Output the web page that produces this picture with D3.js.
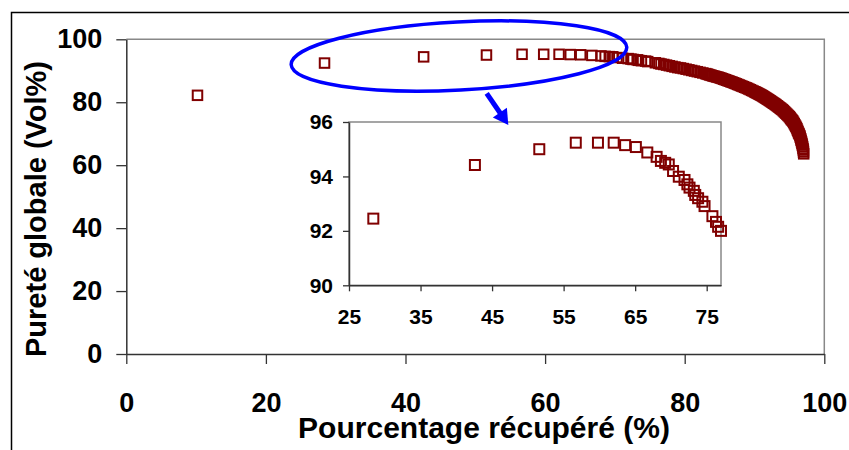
<!DOCTYPE html>
<html lang="fr">
<head>
<meta charset="UTF-8">
<title>Pureté globale vs pourcentage récupéré</title>
<style>
    body { margin: 0; background: #fff; }
    svg { display: block; font-family: Arial, "Liberation Sans", sans-serif; font-weight: bold; }
    .pt { fill: none; stroke: #800000; stroke-width: 2px; }
</style>
</head>
<body>
<svg id="chart" width="849" height="450"></svg>
<script src="https://d3js.org/d3.v7.min.js"></script>
<script>
// pourcentage récupéré (%) and pureté globale (Vol%)
const recovery = [10.2, 28.4, 42.6, 51.6, 56.7, 59.8, 62.0, 63.6, 65.1, 66.7, 68.0, 68.6, 69.2, 69.7,
    70.3, 71.1, 71.9, 72.3, 72.6, 73.2, 73.4, 73.8, 74.4, 74.7, 75.8, 76.3, 76.6,
    77.0, 77.4, 77.8, 78.2, 78.6, 79.0, 79.4, 79.8, 80.2, 80.6, 81.0, 81.4, 81.8, 82.2, 82.6,
    83.0, 83.2, 83.4, 83.6, 83.8, 84.0, 84.2, 84.4, 84.6, 84.8, 85.0, 85.2, 85.4, 85.6, 85.8,
    86.0, 86.2, 86.4, 86.6, 86.8, 87.0, 87.2, 87.4, 87.6, 87.8, 88.0, 88.2, 88.4, 88.6, 88.8,
    89.0, 89.2, 89.4, 89.6, 89.8,
    90.0, 90.125, 90.25, 90.375, 90.5, 90.625, 90.75, 90.875, 91.0, 91.125, 91.25, 91.375, 91.5,
    91.625, 91.75, 91.875, 92.0, 92.125, 92.25, 92.375, 92.5, 92.625, 92.75, 92.875, 93.0,
    93.125, 93.25, 93.375, 93.5, 93.625, 93.75, 93.875, 94.0, 94.125, 94.25, 94.375, 94.5,
    94.625, 94.75, 94.875, 95.0,
    95.1, 95.2, 95.3, 95.4, 95.5, 95.6, 95.7, 95.8, 95.9, 96.0, 96.08, 96.16, 96.24, 96.32, 96.4,
    96.5, 96.56, 96.62, 96.68, 96.74, 96.8, 96.85, 96.9, 96.95, 97.0, 97.02, 97.05];
const purity = [82.2, 92.45, 94.42, 95.0, 95.24, 95.24, 95.24, 95.15, 95.08, 94.88, 94.72, 94.57, 94.5, 94.44,
    94.2, 93.99, 93.87, 93.71, 93.59, 93.47, 93.32, 93.2, 93.07, 92.91, 92.54, 92.33, 92.15,
    92.0, 91.8, 91.6, 91.4, 91.2, 91.0, 90.9, 90.7, 90.5, 90.3, 90.1, 89.9, 89.7, 89.5, 89.3,
    89.1, 88.96, 88.82, 88.68, 88.54, 88.4, 88.28, 88.16, 88.04, 87.92, 87.8, 87.64, 87.48, 87.32, 87.16,
    87.0, 86.84, 86.68, 86.52, 86.36, 86.2, 86.02, 85.84, 85.66, 85.48, 85.3, 85.12, 84.94, 84.76, 84.58,
    84.4, 84.19, 83.98, 83.77, 83.56,
    83.35, 83.2, 83.06, 82.92, 82.78, 82.63, 82.49, 82.34, 82.2, 82.03, 81.85, 81.68, 81.5,
    81.33, 81.15, 80.98, 80.8, 80.61, 80.43, 80.24, 80.05, 79.86, 79.68, 79.49, 79.3,
    79.09, 78.88, 78.66, 78.45, 78.24, 78.03, 77.81, 77.6, 77.33, 77.05, 76.78, 76.5,
    76.23, 75.95, 75.68, 75.4,
    75.1, 74.8, 74.5, 74.25, 74.0, 73.6, 73.2, 72.8, 72.4, 72.0, 71.6, 71.1, 70.7, 70.2, 69.9,
    69.4, 68.9, 68.4, 67.9, 67.4, 66.9, 66.4, 65.9, 65.3, 64.8, 64.2, 63.6];

const xTicks = [0, 20, 40, 60, 80, 100];
const yTicks = [0, 20, 40, 60, 80, 100];
const insetXTicks = [25, 35, 45, 55, 65, 75];
const insetYTicks = [90, 92, 94, 96];

const points = recovery.map((r, i) => ({ x: r, y: purity[i] }));

const svg = d3.select("#chart");

// outer chart frame (only left and top edges visible)
svg.append("path")
    .attr("d", "M11.5,450V12.5H849")
    .attr("fill", "none")
    .attr("stroke", "#000")
    .attr("stroke-width", 1.5);

// main chart scales
const x = d3.scaleLinear().domain([0, 100]).range([126.3, 824.3]);
const y = d3.scaleLinear().domain([0, 100]).range([354, 39.3]);

// grey plot border on top and right
svg.append("path")
    .attr("d", `M${x(0)},${y(100)}H${x(100)}V${y(0)}`)
    .attr("fill", "none")
    .attr("stroke", "#888")
    .attr("stroke-width", 1.5);

const xAxis = svg.append("g")
    .attr("transform", `translate(0,${y(0)})`)
    .call(d3.axisBottom(x).tickValues(xTicks).tickSize(10).tickSizeOuter(0).tickPadding(29));
const yAxis = svg.append("g")
    .attr("transform", `translate(${x(0)},0)`)
    .call(d3.axisLeft(y).tickValues(yTicks).tickSize(10).tickSizeOuter(0).tickPadding(14));

[xAxis, yAxis].forEach(g => {
    g.attr("font-family", null).attr("font-size", 27).attr("font-weight", "bold");
    g.select(".domain").attr("stroke", "#333").attr("stroke-width", 1.5);
    g.selectAll(".tick line").attr("stroke", "#333").attr("stroke-width", 1.3);
    g.selectAll(".tick text").attr("fill", "#000");
});

// main markers
const sq = 9.5;
svg.append("g").selectAll("rect")
    .data(points)
    .join("rect")
    .attr("class", "pt")
    .attr("x", d => x(d.x) - sq / 2)
    .attr("y", d => y(d.y) - sq / 2)
    .attr("width", sq)
    .attr("height", sq);

// axis titles
svg.append("text")
    .attr("x", 484)
    .attr("y", 438)
    .attr("text-anchor", "middle")
    .attr("font-size", 30)
    .text("Pourcentage récupéré (%)");
svg.append("text")
    .attr("transform", "translate(46,209) rotate(-90)")
    .attr("text-anchor", "middle")
    .attr("font-size", 29)
    .text("Pureté globale (Vol%)");

// zoom inset
const xi = d3.scaleLinear().domain([25, 77]).range([349, 721]);
const yi = d3.scaleLinear().domain([90, 96]).range([285.3, 122]);

svg.append("rect")
    .attr("x", xi(25))
    .attr("y", yi(96))
    .attr("width", xi(77) - xi(25))
    .attr("height", yi(90) - yi(96))
    .attr("fill", "#fff")
    .attr("stroke", "#888")
    .attr("stroke-width", 1.5);

const xiAxis = svg.append("g")
    .attr("transform", `translate(0,${yi(90)})`)
    .call(d3.axisBottom(xi).tickValues(insetXTicks).tickSize(6).tickSizeOuter(0).tickPadding(17.5)
        .tickFormat(d3.format("d")));
const yiAxis = svg.append("g")
    .attr("transform", `translate(${xi(25)},0)`)
    .call(d3.axisLeft(yi).tickValues(insetYTicks).tickSize(6).tickSizeOuter(0).tickPadding(10)
        .tickFormat(d3.format("d")));

[xiAxis, yiAxis].forEach(g => {
    g.attr("font-family", null).attr("font-size", 21).attr("font-weight", "bold");
    g.select(".domain").attr("stroke", "#333").attr("stroke-width", 1.5);
    g.selectAll(".tick line").attr("stroke", "#333").attr("stroke-width", 1.3);
    g.selectAll(".tick text").attr("fill", "#000");
});

const sqi = 10;
svg.append("g").selectAll("rect")
    .data(points.filter(d => d.x >= 25 && d.x <= 77 && d.y >= 90))
    .join("rect")
    .attr("class", "pt")
    .attr("x", d => xi(d.x) - sqi / 2)
    .attr("y", d => yi(d.y) - sqi / 2)
    .attr("width", sqi)
    .attr("height", sqi);

// blue ellipse around the top points, and the arrow pointing to the inset
const ell = { cx: 47.66, cy: 94.7, rx: 24.07, ry: 10.8 };
svg.append("ellipse")
    .attr("transform", `translate(${x(ell.cx)},${y(ell.cy)}) rotate(-3)`)
    .attr("rx", x(ell.rx) - x(0))
    .attr("ry", y(0) - y(ell.ry))
    .attr("fill", "none")
    .attr("stroke", "#0000ff")
    .attr("stroke-width", 3.5);

const arrowFrom = [51.63, 82.84], arrowTip = [54.73, 72.77];
const p0 = [x(arrowFrom[0]), y(arrowFrom[1])], p1 = [x(arrowTip[0]), y(arrowTip[1])];
const len = Math.hypot(p1[0] - p0[0], p1[1] - p0[1]);
const ux = (p1[0] - p0[0]) / len, uy = (p1[1] - p0[1]) / len;
const headLen = 15, headHalf = 8.5;
const base = [p1[0] - ux * headLen, p1[1] - uy * headLen];
svg.append("line")
    .attr("x1", p0[0]).attr("y1", p0[1])
    .attr("x2", base[0] + ux * 2).attr("y2", base[1] + uy * 2)
    .attr("stroke", "#0000ff")
    .attr("stroke-width", 5);
svg.append("path")
    .attr("d", `M${p1[0]},${p1[1]}L${base[0] - uy * headHalf},${base[1] + ux * headHalf}L${base[0] + uy * headHalf},${base[1] - ux * headHalf}Z`)
    .attr("fill", "#0000ff");
</script>
</body>
</html>
